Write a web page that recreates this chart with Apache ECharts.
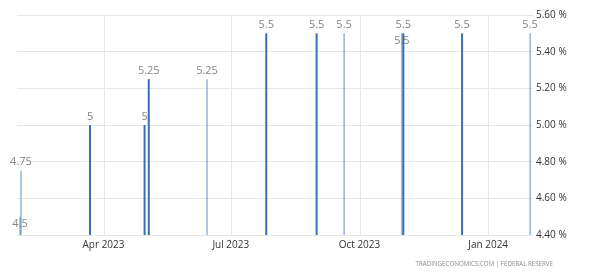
<!DOCTYPE html>
<html>
<head>
<meta charset="utf-8">
<script src="https://cdn.jsdelivr.net/npm/echarts@6/dist/echarts.min.js"></script>
<style>html,body{margin:0;padding:0;background:#fff;}#c{width:589px;height:277px;}</style>
</head>
<body>
<div id="c"></div>
<script>
// Main (thicker, dark blue) decisions
const mainDates = ['2023-03-22', '2023-04-30', '2023-05-03', '2023-07-26', '2023-08-31', '2023-11-01', '2023-12-13'];
const mainValues = [5, 5, 5.25, 5.5, 5.5, 5.5, 5.5];
// Thin bars
const thinDates = ['2023-02-01', '2023-06-14', '2023-09-20', '2024-01-31'];
const thinValues = [4.75, 5.25, 5.5, 5.5];
// Light bars
const lightDates = ['2023-01-31', '2023-10-31'];
const lightValues = [4.5, 5.5];
const yTicks = [4.4, 4.6, 4.8, 5.0, 5.2, 5.4, 5.6];
const xTickDates = ['2023-04-01', '2023-07-01', '2023-10-01', '2024-01-01'];
const xRange = ['2023-01-29T12:00:00', '2024-02-01T00:00:00'];
const monthNames = ['Jan','Feb','Mar','Apr','May','Jun','Jul','Aug','Sep','Oct','Nov','Dec'];

const pair = (d, v) => d.map((x, i) => [x, v[i]]);
const FONT = '"Open Sans", "Noto Sans", sans-serif';
const labelStyle = {show: true, position: 'top', distance: 3, color: '#858585', fontSize: 11, fontFamily: FONT};

const chart = echarts.init(document.getElementById('c'), null, {renderer: 'canvas'});
chart.setOption({
  animation: false,
  grid: {left: 17, right: 56, top: 15, bottom: 42, containLabel: false},
  xAxis: {
    type: 'time',
    min: xRange[0], max: xRange[1],
    splitNumber: 3,
    axisLine: {show: false},
    axisTick: {show: false},
    splitLine: {show: false},
    axisLabel: {
      color: '#333', fontSize: 10, fontFamily: FONT, margin: 5, hideOverlap: false,
      formatter: function (v) { const d = new Date(v); return monthNames[d.getMonth()] + ' ' + d.getFullYear(); }
    }
  },
  yAxis: {
    type: 'value', position: 'right',
    min: yTicks[0], max: yTicks[yTicks.length - 1], interval: 0.2,
    axisLine: {show: false}, axisTick: {show: false},
    splitLine: {lineStyle: {color: '#e6e6e6', width: 1}},
    axisLabel: {color: '#333', fontSize: 10, fontFamily: FONT, margin: 3,
      formatter: v => v.toFixed(2) + ' %'}
  },
  series: [
    {type: 'bar', name: 'light', data: pair(lightDates, lightValues), barWidth: 2, barGap: '-100%',
      itemStyle: {color: '#9dbfe0'}, label: Object.assign({}, labelStyle, {position: 'insideTop', distance: 2}),
      markLine: {silent: true, symbol: 'none', z: 0, label: {show: false},
        lineStyle: {color: '#e6e6e6', width: 1, type: 'solid'},
        data: xTickDates.map(d => ({xAxis: d}))}},
    {type: 'bar', name: 'main', data: pair(mainDates, mainValues), barWidth: 2, barGap: '-100%',
      itemStyle: {color: '#3571b0'}, label: labelStyle},
    {type: 'bar', name: 'thin', data: pair(thinDates, thinValues), barWidth: 1, barGap: '-100%',
      itemStyle: {color: '#5f8ec2'}, label: labelStyle}
  ],
  graphic: [{
    type: 'text', right: 36, top: 261,
    style: {text: 'TRADINGECONOMICS.COM | FEDERAL RESERVE', fill: '#8a8a8a', fontSize: 6.2, fontFamily: FONT}
  }]
});
</script>
</body>
</html>
